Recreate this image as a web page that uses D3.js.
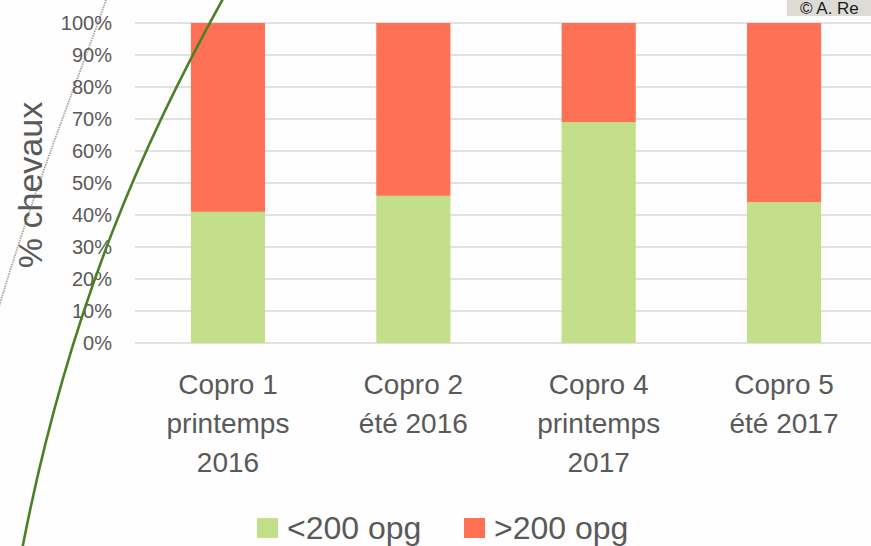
<!DOCTYPE html>
<html>
<head>
<meta charset="utf-8">
<script src="https://cdn.jsdelivr.net/npm/d3@7"></script>
<style>
  html, body { margin: 0; padding: 0; background: #fefefe; }
  svg { display: block; }
  text { font-family: "Liberation Sans", Arial, sans-serif; fill: #595959; }
</style>
</head>
<body>
<svg id="chart" width="871" height="546"></svg>
<script>
// ---- data ----
const categories = [
  ["Copro 1", "printemps", "2016"],
  ["Copro 2", "été 2016"],
  ["Copro 4", "printemps", "2017"],
  ["Copro 5", "été 2017"]
];
const seriesNames = ["<200 opg", ">200 opg"];
const below200 = [0.41, 0.46, 0.69, 0.44];
const above200 = [0.59, 0.54, 0.31, 0.56];
const yTicks = [0, 0.1, 0.2, 0.3, 0.4, 0.5, 0.6, 0.7, 0.8, 0.9, 1.0];
const yTitle = "% chevaux";
const colors = ["#c4df89", "#ff7155"];

// ---- layout ----
const W = 871, H = 546;
const svg = d3.select("#chart");

const x = d3.scaleBand()
  .domain(d3.range(categories.length))
  .range([135.3, 876.7])
  .paddingInner(0.6)
  .paddingOuter(0.3);
const y = d3.scaleLinear().domain([0, 1]).range([343, 23]);

// decorative background: photo edge (grey dotted)
const edge = d3.path();
edge.moveTo(106, 0);
edge.bezierCurveTo(82, 70, 40, 170, -2, 310);
svg.append("path")
  .attr("d", edge.toString())
  .attr("fill", "none")
  .attr("stroke", "#aaa698")
  .attr("stroke-width", 1.8)
  .attr("stroke-dasharray", "1.5,1");

// gridlines
svg.append("g").selectAll("line")
  .data(yTicks)
  .join("line")
  .attr("x1", 135).attr("x2", W)
  .attr("y1", d => y(d)).attr("y2", d => y(d))
  .attr("stroke", "#d9d9d9")
  .attr("stroke-width", 1.6);

// y tick labels
svg.append("g").selectAll("text")
  .data(yTicks)
  .join("text")
  .attr("x", 112)
  .attr("y", d => y(d))
  .attr("dy", "0.36em")
  .attr("text-anchor", "end")
  .style("font-size", "20px")
  .text(d => d3.format(".0%")(d));

// y title
svg.append("text")
  .attr("transform", "translate(42,185) rotate(-90)")
  .attr("text-anchor", "middle")
  .style("font-size", "34px")
  .text(yTitle);

// stacked bars
const rows = categories.map((c, i) => ({ i, a: below200[i], b: above200[i] }));
const stack = d3.stack().keys(["a", "b"])(rows);
svg.append("g").selectAll("g")
  .data(stack)
  .join("g")
  .attr("fill", (d, k) => colors[k])
  .selectAll("rect")
  .data(d => d)
  .join("rect")
  .attr("x", d => x(d.data.i))
  .attr("width", x.bandwidth())
  .attr("y", d => y(d[1]))
  .attr("height", d => y(d[0]) - y(d[1]));

// category labels
const catG = svg.append("g").selectAll("text")
  .data(categories)
  .join("text")
  .attr("x", (d, i) => x(i) + x.bandwidth() / 2)
  .attr("y", 394)
  .attr("text-anchor", "middle")
  .style("font-size", "28px");
catG.selectAll("tspan")
  .data(d => d)
  .join("tspan")
  .attr("x", function() { return this.parentNode.getAttribute("x"); })
  .attr("dy", (d, j) => j === 0 ? 0 : 39)
  .text(d => d);

// legend
const legendX = [257, 464];
const leg = svg.append("g").selectAll("g")
  .data(seriesNames)
  .join("g")
  .attr("transform", (d, i) => `translate(${legendX[i]},518)`);
leg.append("rect")
  .attr("width", 21).attr("height", 20)
  .attr("fill", (d, i) => colors[i]);
leg.append("text")
  .attr("x", 30).attr("y", 21)
  .style("font-size", "32px")
  .text(d => d);

// decorative green curve
const green = d3.path();
green.moveTo(224, -3);
green.bezierCurveTo(150, 130, 70, 300, 22, 550);
svg.append("path")
  .attr("d", green.toString())
  .attr("fill", "none")
  .attr("stroke", "#4b8027")
  .attr("stroke-width", 2.6);

// credit box top right
svg.append("rect")
  .attr("x", 787).attr("y", 0).attr("width", 84).attr("height", 16)
  .attr("fill", "#dcdbd6");
svg.append("text")
  .attr("x", 800).attr("y", 14)
  .style("font-size", "17px")
  .style("fill", "#1a1a1a")
  .text("© A. Re");
</script>
</body>
</html>
